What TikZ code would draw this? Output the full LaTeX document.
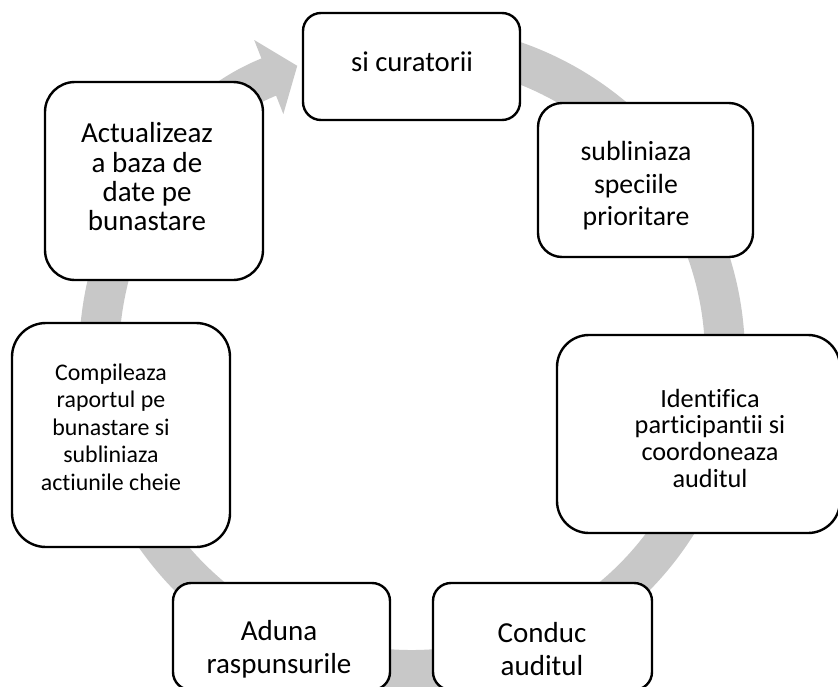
\documentclass[tikz,border=0pt]{standalone}
\usepackage{fontspec}
\setmainfont{Carlito}[Ligatures={NoCommon,NoContextual}]
\usetikzlibrary{arrows.meta}
\definecolor{ringgray}{HTML}{C8C8C8}

\begin{document}
\begin{tikzpicture}[
    x=0.75pt, y=-0.75pt,
    stepbox/.style={
      draw=black,
      fill=white,
      line width=1.8pt,
      inner sep=0pt,
    },
    steptext/.style={
      align=center,
      inner sep=0pt,
    },
    ring/.style={
      draw=ringgray,
      line width=30pt,
      -{Triangle[width=58.5pt,length=23pt]},
    },
    ]
    \useasboundingbox (0,0) rectangle (838,686);
    \clip (0,0) rectangle (838,686);

    % the cycle behind the steps
    \coordinate (mid) at (412,357);
    \draw[ring] (mid) ++(95:234.75pt) arc[start angle=95, end angle=-248.5, radius=234.75pt];

    \node[stepbox, minimum width=162.75pt, minimum height=80.25pt, rounded corners=13.5pt] (curat) at (411.5,66.5) {};
    \node[steptext, font=\fontsize{21.5}{26}\selectfont] (curat-txt) at (412,62) {si curatorii};

    \node[stepbox, minimum width=161.25pt, minimum height=115.5pt, rounded corners=18pt] (sublin) at (645.5,180) {};
    \node[steptext, font=\fontsize{20.8}{24.4}\selectfont] (sublin-txt) at (636,186) {
      subliniaza \\ speciile \\ prioritare
    };

    \node[stepbox, minimum width=212.25pt, minimum height=148.5pt, rounded corners=24pt] (ident) at (698.5,434) {};
    \node[steptext, font=\fontsize{19.7}{20}\selectfont] (ident-txt) at (710,438) {
      Identifica \\ participantii si \\ coordoneaza \\ auditul
    };

    \node[stepbox, minimum width=164.25pt, minimum height=80.25pt, rounded corners=13.5pt] (conduc) at (542.5,636.5) {};
    \node[steptext, font=\fontsize{21.75}{24.75}\selectfont] (conduc-txt) at (542,649) {
      Conduc \\ auditul
    };

    \node[stepbox, minimum width=162.75pt, minimum height=80.25pt, rounded corners=13.5pt] (aduna) at (281.5,636.5) {};
    \node[steptext, font=\fontsize{21.75}{24.75}\selectfont] (aduna-txt) at (279,649) {
      Aduna \\ raspunsurile
    };

    \node[stepbox, minimum width=163.5pt, minimum height=168pt, rounded corners=25.5pt] (compil) at (121,435) {};
    \node[steptext, font=\fontsize{17.9}{20.6}\selectfont] (compil-txt) at (111,427) {
      Compileaza \\ raportul pe \\ bunastare si \\ subliniaza \\ actiunile cheie
    };

    \node[stepbox, minimum width=163.5pt, minimum height=148.5pt, rounded corners=22.5pt] (actual) at (154,181) {};
    \node[steptext, font=\fontsize{21.75}{22}\selectfont] (actual-txt) at (147,177) {
      Actualizeaz \\ a baza de \\ date pe \\ bunastare
    };
  \end{tikzpicture}
\end{document}
